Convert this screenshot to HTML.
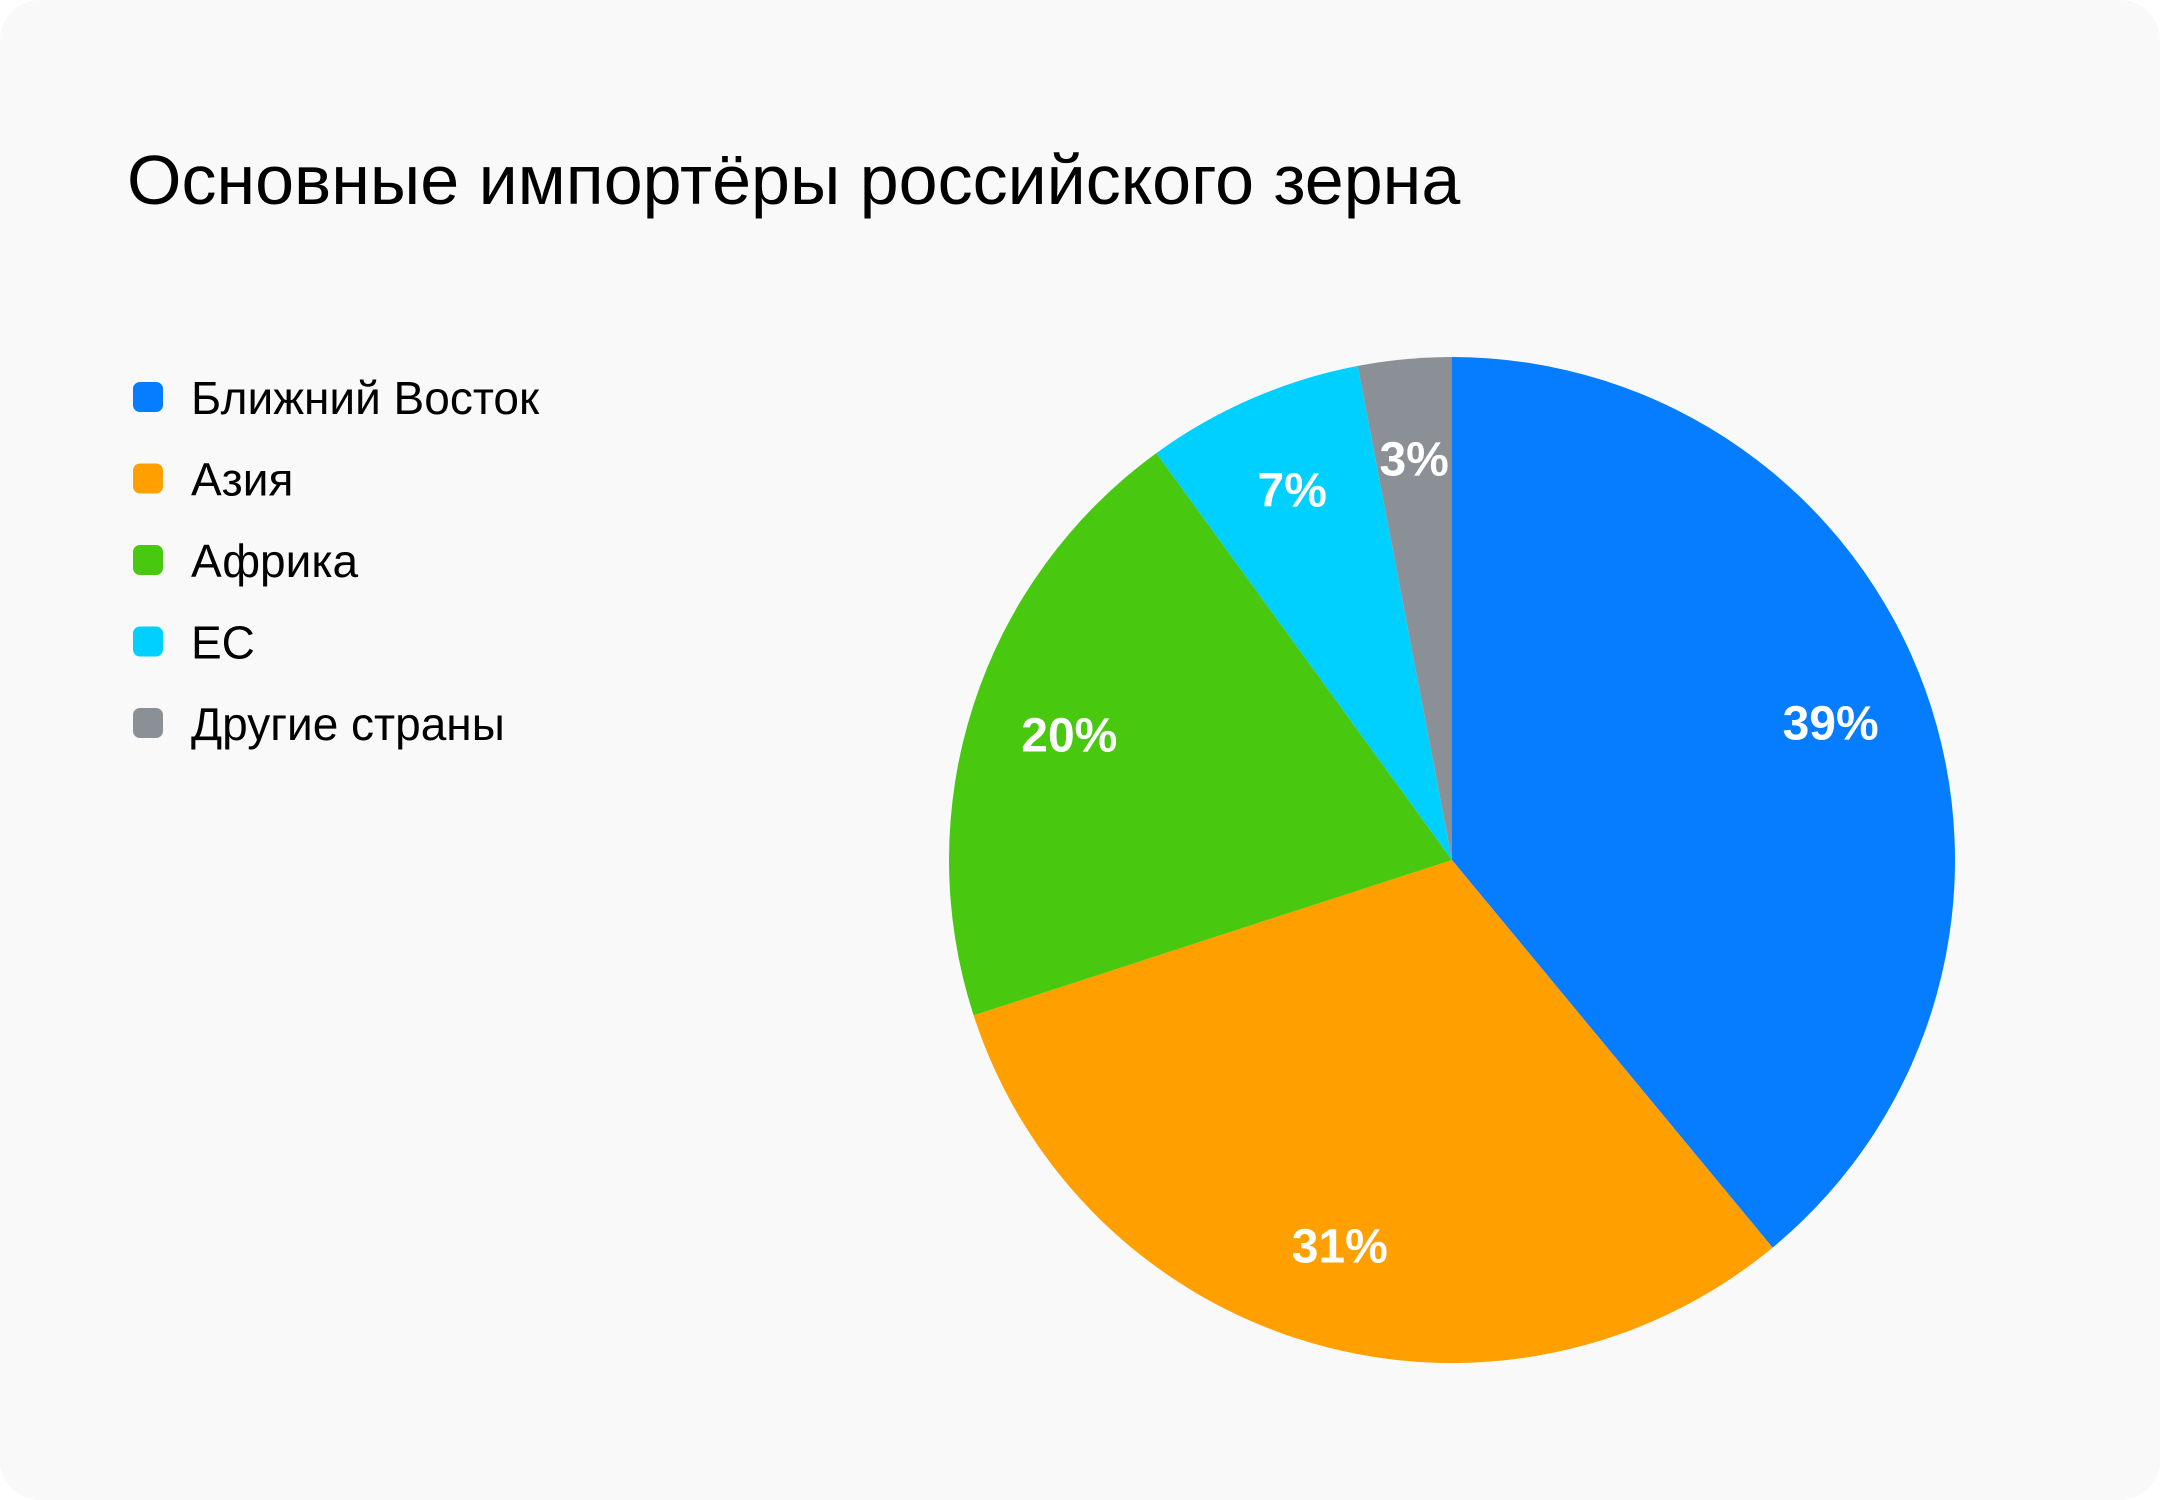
<!DOCTYPE html>
<html><head><meta charset="utf-8"><style>
html,body{margin:0;padding:0;background:#fff;}
body{width:2160px;height:1500px;overflow:hidden;}
#card{position:absolute;left:0;top:0;width:2160px;height:1500px;background:#f9f9f9;border-radius:40px;}
svg{position:absolute;left:0;top:0;}
text{font-family:"Liberation Sans",sans-serif;}
</style></head><body>
<div id="card">
<svg id="chart" width="2160" height="1500">
<text x="127" y="204" font-size="70" fill="#000">Основные импортёры российского зерна</text>
<g id="legend"></g>
<g id="slices"></g>
<g id="labels"></g>
</svg>
</div>
<script>
const categories = ["Ближний Восток","Азия","Африка","ЕС","Другие страны"];
const values = [39,31,20,7,3];
const valueLabels = ["39%","31%","20%","7%","3%"];
const colors = ["#067cff","#ff9f00","#48c90f","#00d0ff","#8b9096"];
const NS="http://www.w3.org/2000/svg";
const cx=1452, cy=860, r=503;
const total=values.reduce((a,b)=>a+b,0);
function pt(a,rad){return [cx+rad*Math.sin(a), cy-rad*Math.cos(a)];}
const sg=document.getElementById('slices'), lg=document.getElementById('labels'), leg=document.getElementById('legend');
let acc=0;
values.forEach((v,i)=>{
  const a0=acc/total*2*Math.PI; acc+=v; const a1=acc/total*2*Math.PI;
  const p0=pt(a0,r), p1=pt(a1,r);
  const large=(a1-a0)>Math.PI?1:0;
  const p=document.createElementNS(NS,'path');
  p.setAttribute('d',`M${cx},${cy} L${p0[0]},${p0[1]} A${r},${r} 0 ${large} 1 ${p1[0]},${p1[1]} Z`);
  p.setAttribute('fill',colors[i]);
  
  
  sg.appendChild(p);
  const m=(a0+a1)/2, lp=pt(m,r*0.8);
  const t=document.createElementNS(NS,'text');
  t.setAttribute('x',lp[0]); t.setAttribute('y',lp[1]+16);
  t.setAttribute('text-anchor','middle'); t.setAttribute('font-size','48');
  t.setAttribute('font-weight','bold'); t.setAttribute('fill','#fff');
  t.textContent=valueLabels[i];
  
  
  lg.appendChild(t);
  const y=397+i*81.5;
  const g=document.createElementNS(NS,'g');
  
  
  const s=document.createElementNS(NS,'rect');
  s.setAttribute('x',133); s.setAttribute('y',y-15); s.setAttribute('width',30); s.setAttribute('height',30);
  s.setAttribute('rx',7); s.setAttribute('fill',colors[i]);
  
  
  g.appendChild(s);
  const lt=document.createElementNS(NS,'text');
  lt.setAttribute('x',191); lt.setAttribute('y',y+17); lt.setAttribute('font-size','46'); lt.setAttribute('fill','#000');
  lt.textContent=categories[i];
  
  
  g.appendChild(lt);
  leg.appendChild(g);
});
</script>
</body></html>
